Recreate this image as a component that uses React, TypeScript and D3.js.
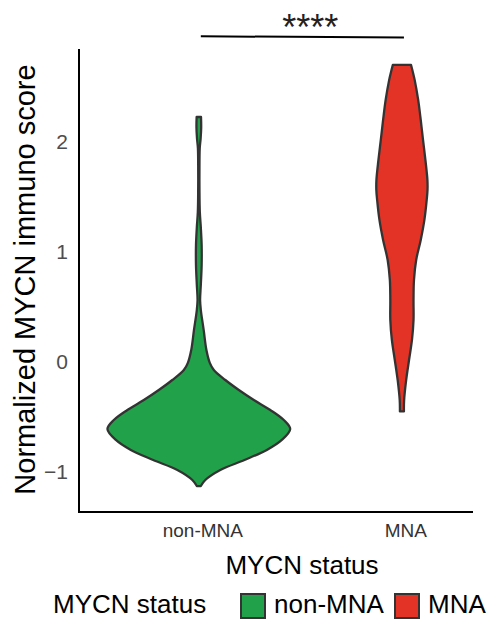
import React from 'react';
import * as d3 from 'd3';

const W = 491;
const H = 620;

// categories + colours
const groups = ['non-MNA', 'MNA'];
const fills = ['#21a24a', '#e33326'];

// violin outlines: score value and relative density
const nonMnaScore = [-1.13, -1.075, -0.984, -0.893, -0.802, -0.711, -0.611, -0.53, -0.439, -0.348, -0.257, -0.166, -0.075, -0.01, 0.107, 0.289, 0.47, 0.56, 0.7, 0.88, 1.06, 1.22, 1.36, 1.56, 1.79, 1.94, 2.03, 2.13, 2.225];
const nonMnaDensity = [0.022, 0.071, 0.235, 0.5, 0.744, 0.908, 1.0, 0.93, 0.782, 0.602, 0.438, 0.29, 0.164, 0.12, 0.083, 0.053, 0.022, 0.014, 0.022, 0.031, 0.031, 0.022, 0.011, 0.007, 0.007, 0.01, 0.02, 0.026, 0.024];

const mnaScore = [-0.452, -0.352, -0.17, 0.016, 0.198, 0.38, 0.561, 0.743, 0.925, 1.107, 1.289, 1.47, 1.561, 1.652, 1.834, 2.016, 2.198, 2.38, 2.56, 2.698];
const mnaDensity = [0.022, 0.024, 0.046, 0.078, 0.11, 0.127, 0.127, 0.132, 0.156, 0.206, 0.246, 0.271, 0.28, 0.279, 0.257, 0.231, 0.206, 0.178, 0.14, 0.1];

const yTicks = [-1, 0, 1, 2];
const yTickLabels = ['\u22121', '0', '1', '2'];
const sigLabel = '****';

const font = '"Liberation Sans", Arial, sans-serif';

// plot panel
const left = 79;
const right = 473;
const top = 49;
const bottom = 512;

const y = d3.scaleLinear().domain([-1.366, 2.843]).range([bottom, top]);
// group position (1-based) -> px
const x = d3.scaleLinear().domain([0.41, 2.35]).range([left, right]);
const halfWidth = d3.scaleLinear().domain([0, 1]).range([0, 0.45 * (x(2) - x(1))]);

const violins = [
  { score: nonMnaScore, density: nonMnaDensity },
  { score: mnaScore, density: mnaDensity },
];

const App = () => {
  const paths = violins.map((v, i) => {
    const cx = x(i + 1);
    const pts = v.score.map((s, j) => ({ s, d: v.density[j] }));
    const area = d3.area<{ s: number; d: number }>()
      .y(p => y(p.s))
      .x0(p => cx - halfWidth(p.d))
      .x1(p => cx + halfWidth(p.d))
      .curve(d3.curveCatmullRom.alpha(0.5));
    return area(pts) || '';
  });

  return (
    <svg width={W} height={H} style={{ position: 'absolute', left: 0, top: 0 }}>
      <rect width={W} height={H} fill="#fff" />

      {paths.map((d, i) => (
        <path key={groups[i]} d={d} fill={fills[i]} stroke="#333333" strokeWidth={2.3} strokeLinejoin="round" />
      ))}

      {/* axes */}
      <line x1={left} x2={left} y1={top} y2={bottom + 1} stroke="#000" strokeWidth={2} />
      <line x1={left - 1} x2={right} y1={bottom} y2={bottom} stroke="#000" strokeWidth={2} />

      {yTicks.map((t, i) => (
        <text key={t} x={68} y={y(t)} dy="0.36em" textAnchor="end" fontFamily={font} fontSize={21} fill="#4d4d4d">
          {yTickLabels[i]}
        </text>
      ))}

      {groups.map((g, i) => (
        <text key={g} x={x(i + 1) + 4} y={536.5} textAnchor="middle" fontFamily={font} fontSize={19} fill="#333">
          {g}
        </text>
      ))}

      <text x={302} y={574} textAnchor="middle" fontFamily={font} fontSize={26} fill="#000">MYCN status</text>
      <text transform={`translate(35,${279.5}) rotate(-90)`} textAnchor="middle" fontFamily={font} fontSize={29} fill="#000">
        Normalized MYCN immuno score
      </text>

      {/* significance bracket */}
      <line x1={x(1) + 2} x2={x(2) + 2} y1={36.3} y2={37.5} stroke="#000" strokeWidth={2} />
      <text x={(x(1) + x(2)) / 2 + 10} y={40} textAnchor="middle" fontFamily={font} fontSize={36} fill="#222">
        {sigLabel}
      </text>

      {/* legend */}
      <text x={53} y={613} fontFamily={font} fontSize={26} fill="#000">MYCN status</text>
      {groups.map((g, i) => {
        const lx = i === 0 ? 241 : 395;
        return (
          <g key={g}>
            <rect x={lx} y={594} width={24} height={24} fill={fills[i]} stroke="#333333" strokeWidth={2} />
            <text x={lx + 33} y={613} fontFamily={font} fontSize={26} fill="#000">{g}</text>
          </g>
        );
      })}
    </svg>
  );
};

export default App;
